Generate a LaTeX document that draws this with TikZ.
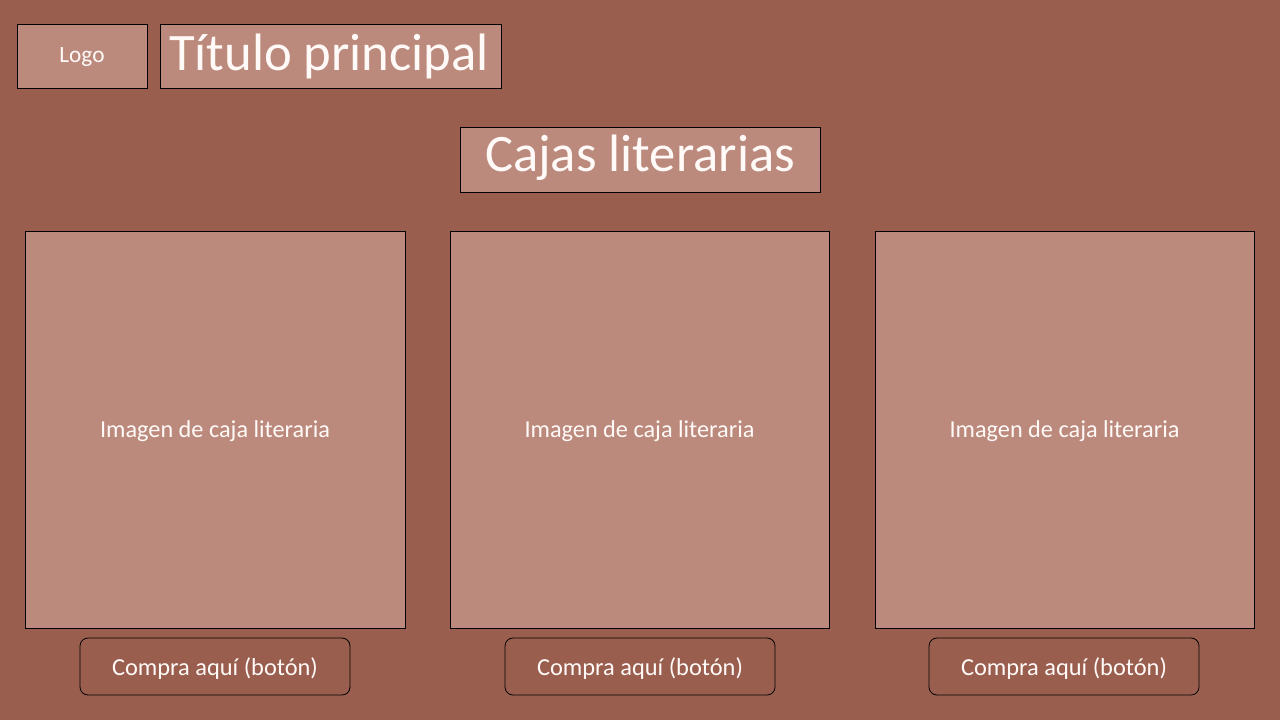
\documentclass[tikz,border=0pt]{standalone}
\usepackage{fontspec}
\setmainfont{Carlito}
\definecolor{bg}{RGB}{154,94,78}
\definecolor{boxfill}{RGB}{188,138,125}
\definecolor{txt}{RGB}{255,250,248}
\tikzset{
  panel/.style={draw=black, line width=0.6pt, fill=boxfill},
  button/.style={draw=black, line width=0.6pt, fill=bg, rounded corners=6pt},
  lbl/.style={text=txt, inner sep=0pt, anchor=base}
}
\begin{document}
\begin{tikzpicture}[x=0.75pt,y=-0.75pt]
\fill[bg] (0,0) rectangle (1280,720);
\useasboundingbox (0,0) rectangle (1280,720);
% header
\draw[panel] (17,24) rectangle (147,88);
\node[lbl, font=\fontsize{17.5}{20}\selectfont] (logo) at (82,63) {Logo};
\draw[panel] (160,24) rectangle (501,88);
\node[lbl, font=\fontsize{39.5}{44}\selectfont] (title) at (329,71) {Título principal};
\draw[panel] (460,127) rectangle (820,192);
\node[lbl, font=\fontsize{39.5}{44}\selectfont] (cajas) at (640,172) {Cajas literarias};
% image panels
\foreach \i/\xa/\xb in {1/25/405, 2/450/829, 3/875/1254}{
  \draw[panel] (\xa,231) rectangle (\xb,628);
  \node[lbl, font=\fontsize{18.2}{21}\selectfont] (img\i) at ({(\xa+\xb)/2},437) {Imagen de caja literaria};
}
% buttons
\foreach \i/\xa/\xb in {1/80/350, 2/505/775, 3/929/1199}{
  \draw[button] (\xa,638) rectangle (\xb,695);
  \node[lbl, font=\fontsize{18.3}{21}\selectfont] (btn\i) at ({(\xa+\xb)/2},675) {Compra aquí (botón)};
}
\end{tikzpicture}
\end{document}
